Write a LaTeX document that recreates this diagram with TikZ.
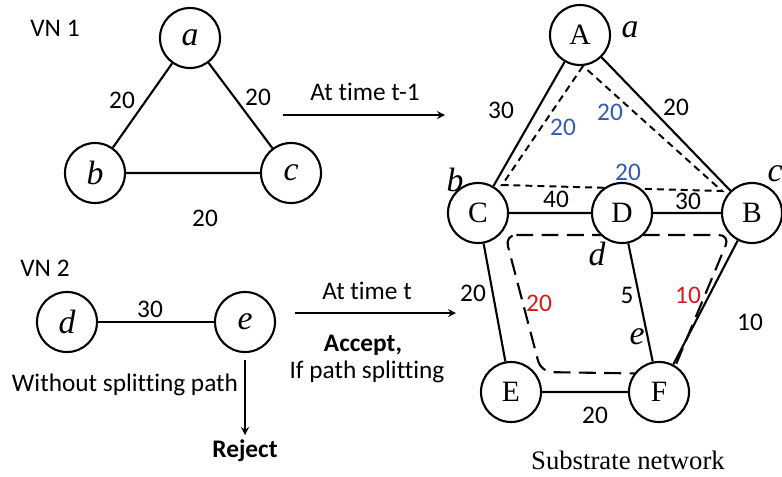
\documentclass[tikz,border=0pt]{standalone}
\usepackage{fontspec}
\setmainfont{Carlito}[Ligatures={NoCommon}]
\newfontfamily\romanfont{Liberation Serif}
\definecolor{pathblue}{RGB}{52,92,176}
\definecolor{pathred}{RGB}{214,28,28}

\tikzset{
	vnode/.style={draw, circle, line width=1.5pt, fill=white, minimum size=1.5cm, inner sep=0pt,
		font=\romanfont\itshape\fontsize{24}{24}\selectfont},
	snode/.style={vnode, font=\romanfont\fontsize{21}{21}\selectfont},
	link/.style={line width=1.5pt},
	tag/.style={font=\romanfont\itshape\fontsize{24}{24}\selectfont},
	shortdash/.style={line width=1.4pt, dash pattern=on 5pt off 3.5pt},
	longdash/.style={line width=1.5pt, dash pattern=on 12pt off 6pt, rounded corners=8pt}
}

\begin{document}
\begin{tikzpicture}[x=0.025cm, y=-0.025cm, font=\fontsize{18}{21}\selectfont]
\useasboundingbox (0,0) rectangle (782,476);

% Virtual network 1
\node (vn1) at (55,28) {VN 1};
\node[vnode] (a) at (190,38) {a};
\node[vnode] (b) at (95,173) {b};
\node[vnode] (c) at (291,173) {c};
\draw[link] (a) -- (b) (a) -- (c) (b) -- (c);
\node (w-ab) at (122,100) {20};
\node (w-ac) at (258,97) {20};
\node (w-bc) at (205,218) {20};

% Virtual network 2
\node (vn2) at (45,268) {VN 2};
\node[vnode] (d) at (67,322) {d};
\node[vnode] (e) at (245,322) {e};
\draw[link] (d) -- (e);
\node (w-de) at (150,309) {30};
\node (nosplit) at (125,385) {Without splitting path};
\node[font=\fontsize{18}{21}\selectfont\bfseries] (reject) at (245,451) {Reject};
\coordinate (rej-top) at (245,360);
\draw[link,->,>=stealth] (rej-top) -- (reject.north);

% Arrivals
\coordinate (t1-start) at (283,115);
\coordinate (t1-end) at (445,115);
\draw[link,->,>=stealth] (t1-start) -- (t1-end);
\node (t1-lbl) at (365,92) {At time t-1};

\coordinate (t-start) at (295,313);
\coordinate (t-end) at (456,313);
\draw[link,->,>=stealth] (t-start) -- (t-end);
\node (t-lbl) at (367,291) {At time t};
\node[font=\fontsize{18}{21}\selectfont\bfseries] (accept) at (363,345) {Accept,};
\node (ifsplit) at (367,372) {If path splitting};

% Embedded paths (drawn first, the nodes cover their ends)
\coordinate (tri-A) at (583,66);
\coordinate (tri-C) at (502,185);
\coordinate (tri-B) at (722,191);
\draw[shortdash] (tri-A) -- (tri-C) -- (tri-B) -- cycle;

\coordinate (loop-tl) at (505,235);
\coordinate (loop-tr) at (730,235);
\coordinate (loop-br) at (672,374);
\coordinate (loop-bl) at (541,372);
\draw[longdash] (loop-tl) -- (loop-tr) -- (loop-br) -- (loop-bl) -- cycle;

% Substrate network
\node[snode] (A) at (580,35) {A};
\node[snode] (C) at (478,213) {C};
\node[snode] (D) at (622,213) {D};
\node[snode] (B) at (752,213) {B};
\node[snode] (E) at (511,392) {E};
\node[snode] (F) at (659,392) {F};
\draw[link] (A) -- (C) (A) -- (B) (C) -- (D) (D) -- (B)
	(C) -- (E) (D) -- (F) (B) -- (F) (E) -- (F);

\node[tag] (tag-a) at (630,30) {a};
\node[tag] (tag-b) at (455,180) {b};
\node[tag] (tag-c) at (775,174) {c};
\node[tag] (tag-d) at (597,254) {d};
\node[tag] (tag-e) at (637,337) {e};

% Capacities
\node (w-AC) at (501,110) {30};
\node (w-AB) at (676,107) {20};
\node (w-CD) at (556,199) {40};
\node (w-DB) at (688,201) {30};
\node (w-CE) at (473,293) {20};
\node (w-DF) at (627,295) {5};
\node (w-BF) at (750,322) {10};
\node (w-EF) at (595,415) {20};

\node[text=pathblue] (u-AC) at (563,127) {20};
\node[text=pathblue] (u-AB) at (610,112) {20};
\node[text=pathblue] (u-CB) at (628,172) {20};
\node[text=pathred] (u-CE) at (539,303) {20};
\node[text=pathred] (u-BF) at (688,295) {10};

\node[font=\romanfont\fontsize{19}{19}\selectfont] (title) at (628,460) {Substrate network};

\end{tikzpicture}
\end{document}
